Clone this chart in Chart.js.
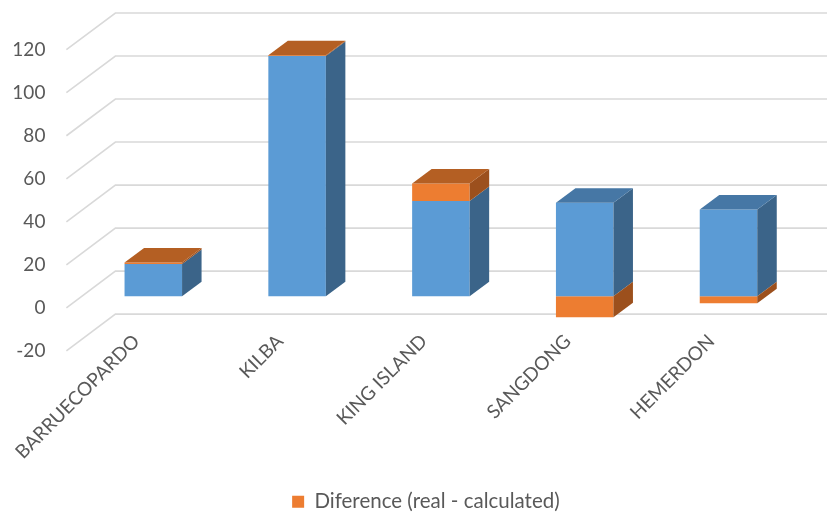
<!DOCTYPE html>
<html>
<head>
<meta charset="utf-8">
<script src="https://cdn.jsdelivr.net/npm/chart.js@4.4.1/dist/chart.umd.min.js"></script>
<style>
  html, body { margin: 0; padding: 0; background: #ffffff; }
  #wrap { width: 827px; height: 515px; position: relative; }
</style>
</head>
<body>
<div id="wrap"><canvas id="chart"></canvas></div>
<script>
// Deposits and tonnage figures
const categories = ['BARRUECOPARDO', 'KILBA', 'KING ISLAND', 'SANGDONG', 'HEMERDON'];
const calculated = [15.0, 111.7, 44.3, 43.5, 40.4];
const difference = [0.7, 0.4, 8.2, -9.7, -3.2];
const yTicks = [-20, 0, 20, 40, 60, 80, 100, 120];

// Value axis: the plot area stops above the floor so the category
// labels can sit under the columns; the -20 line lies below it.
const Y_MIN = -10.3;
const Y_MAX = 120;

// Pseudo-3D geometry (pixels)
const BAR_SHIFT = { x: 15, y: -11.5 };   // bar front faces sit behind the floor edge
const BAR_DEPTH = { x: 19.5, y: -14.5 }; // extrusion of each column
const WALL_SHIFT = { x: 49, y: -36.7 };  // back wall relative to the floor edge

const faceColors = [
  { side: '#3b6489', top: '#4677a5' },
  { side: '#9c501d', top: '#b45f23' }
];

const depthPlugin = {
  id: 'depth3d',
  beforeDatasetsDraw(chart) {
    const { ctx, chartArea: a, scales: { y } } = chart;
    ctx.save();
    ctx.strokeStyle = '#d9d9d9';
    ctx.lineWidth = 1.6;
    yTicks.forEach(v => {
      const py = y.getPixelForValue(v);
      ctx.beginPath();
      ctx.moveTo(a.left, py);
      ctx.lineTo(a.left + WALL_SHIFT.x, py + WALL_SHIFT.y);
      ctx.lineTo(a.right + WALL_SHIFT.x, py + WALL_SHIFT.y);
      ctx.stroke();
    });
    ctx.restore();
    ctx.save();
    ctx.translate(BAR_SHIFT.x, BAR_SHIFT.y);
  },
  afterDatasetsDraw(chart) {
    const { ctx } = chart;
    const dx = BAR_DEPTH.x, dy = BAR_DEPTH.y;
    for (let i = 0; i < categories.length; i++) {
      const parts = [0, 1].map(d => {
        const p = chart.getDatasetMeta(d).data[i].getProps(['x', 'y', 'base', 'width'], true);
        return {
          d,
          left: p.x - p.width / 2,
          right: p.x + p.width / 2,
          top: Math.min(p.y, p.base),
          bottom: Math.max(p.y, p.base)
        };
      });
      // right-hand side faces
      parts.forEach(s => {
        ctx.fillStyle = faceColors[s.d].side;
        ctx.beginPath();
        ctx.moveTo(s.right, s.top);
        ctx.lineTo(s.right + dx, s.top + dy);
        ctx.lineTo(s.right + dx, s.bottom + dy);
        ctx.lineTo(s.right, s.bottom);
        ctx.closePath();
        ctx.fill();
      });
      // top face of the highest segment
      const t = parts.reduce((m, s) => (s.top < m.top ? s : m));
      ctx.fillStyle = faceColors[t.d].top;
      ctx.beginPath();
      ctx.moveTo(t.left, t.top);
      ctx.lineTo(t.left + dx, t.top + dy);
      ctx.lineTo(t.right + dx, t.top + dy);
      ctx.lineTo(t.right, t.top);
      ctx.closePath();
      ctx.fill();
    }
    ctx.restore();
  }
};

const textColor = '#595959';
const font = { family: 'Lato', size: 19 };

new Chart(document.getElementById('chart'), {
  type: 'bar',
  data: {
    labels: categories,
    datasets: [
      { label: 'Calculated', data: calculated, backgroundColor: '#5b9bd5', borderWidth: 0, clip: false },
      { label: 'Diference (real - calculated)', data: difference, backgroundColor: '#ed7d31', borderWidth: 0, clip: false }
    ]
  },
  options: {
    responsive: true,
    maintainAspectRatio: false,
    animation: false,
    events: [],
    categoryPercentage: 0.8,
    barPercentage: 0.5,
    layout: { padding: { top: 49.7, right: 41.6, bottom: -7, left: 0 } },
    scales: {
      x: {
        stacked: true,
        grid: { display: false, drawTicks: false },
        border: { display: false },
        ticks: {
          color: textColor, font,
          autoSkip: false, minRotation: 45, maxRotation: 45,
          padding: 0, labelOffset: -2
        },
        afterFit(s) { s.height = 151.5; }
      },
      y: {
        stacked: true,
        min: Y_MIN, max: Y_MAX,
        grid: { display: false, drawTicks: false },
        border: { display: false },
        ticks: { color: textColor, font, padding: 21, autoSkip: false },
        afterBuildTicks(s) { s.ticks = yTicks.map(v => ({ value: v })); },
        afterFit(s) { s.width = 66.4; }
      }
    },
    plugins: {
      tooltip: { enabled: false },
      legend: {
        position: 'bottom',
        fullSize: false,
        labels: {
          color: textColor,
          font: { family: 'Lato', size: 20.5 },
          boxWidth: 12, boxHeight: 12, padding: 10,
          filter: item => item.datasetIndex === 1
        }
      }
    }
  },
  plugins: [depthPlugin]
});
</script>
</body>
</html>
